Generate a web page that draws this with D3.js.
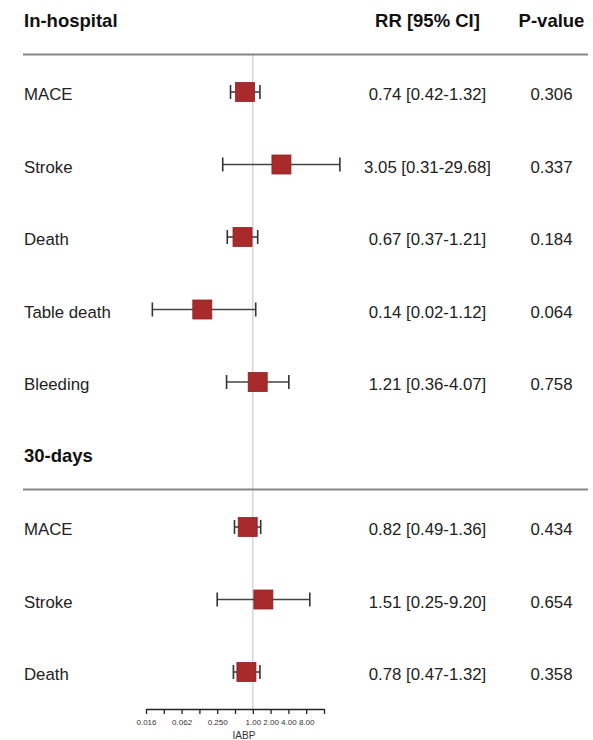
<!DOCTYPE html>
<html>
<head>
<meta charset="utf-8">
<script src="https://cdn.jsdelivr.net/npm/d3@7"></script>
<style>
  html, body { margin: 0; padding: 0; background: #fff; }
  svg { display: block; }
  text { font-family: "Liberation Sans", Arial, sans-serif; }
</style>
</head>
<body>
<svg id="chart" width="593" height="740"></svg>
<script>
// Forest plot of IABP outcomes: relative risk with 95% CI on a log2 axis
const groups = ["In-hospital", "30-days"];
const groupSizes = [5, 3];
const outcomes = ["MACE", "Stroke", "Death", "Table death", "Bleeding", "MACE", "Stroke", "Death"];
const rr    = [0.74, 3.05, 0.67, 0.14, 1.21, 0.82, 1.51, 0.78];
const lower = [0.42, 0.31, 0.37, 0.02, 0.36, 0.49, 0.25, 0.47];
const upper = [1.32, 29.68, 1.21, 1.12, 4.07, 1.36, 9.20, 1.32];
const pValues = ["0.306", "0.337", "0.184", "0.064", "0.758", "0.434", "0.654", "0.358"];
const tickValues = [1/64, 1/32, 1/16, 1/8, 1/4, 1/2, 1, 2, 4, 8, 16];
const tickLabels = ["0.016", "", "0.062", "", "0.250", "", "1.00", "2.00", "4.00", "8.00", ""];
const axisTitle = "IABP";

// Row layout: a header row for each group followed by its outcomes
const rows = [];
let k = 0;
groups.forEach((g, gi) => {
  rows.push({ type: "header", label: g });
  for (let j = 0; j < groupSizes[gi]; j++, k++) {
    rows.push({ type: "item", label: outcomes[k], rr: rr[k], lo: lower[k], hi: upper[k], p: pValues[k] });
  }
});

const svg = d3.select("#chart");
const y = d3.scaleLinear().domain([0, rows.length - 1]).range([19.5, 672]);
const x = d3.scaleLog().base(2).domain([1/64, 16]).range([146, 324]);

const labelX = 24, ciX = 427.5, pX = 551.5, lineX0 = 23, lineX1 = 588;
const axisY = 709;
const box = 19, cap = 14;

// reference line at RR = 1
svg.append("line")
  .attr("x1", x(1)).attr("x2", x(1))
  .attr("y1", y(0) + 35).attr("y2", axisY)
  .attr("stroke", "#d6d6d6").attr("stroke-width", 1.5);

// group headers and their rules
rows.forEach((r, i) => {
  if (r.type !== "header") return;
  const cy = y(i);
  svg.append("text").attr("x", labelX).attr("y", cy + 7)
    .attr("font-size", 18.5).attr("font-weight", "bold").attr("fill", "#111")
    .text(r.label);
  svg.append("line").attr("x1", lineX0).attr("x2", lineX1)
    .attr("y1", cy + 35).attr("y2", cy + 35)
    .attr("stroke", "#858585").attr("stroke-width", 2);
  if (i === 0) {
    svg.append("text").attr("x", ciX).attr("y", cy + 7).attr("text-anchor", "middle")
      .attr("font-size", 18.5).attr("font-weight", "bold").attr("fill", "#111")
      .text("RR [95% CI]");
    svg.append("text").attr("x", pX).attr("y", cy + 7).attr("text-anchor", "middle")
      .attr("font-size", 18.5).attr("font-weight", "bold").attr("fill", "#111")
      .text("P-value");
  }
});

// outcome rows
const items = rows.map((r, i) => Object.assign({ i }, r)).filter(r => r.type === "item");
const g = svg.selectAll("g.row").data(items).join("g").attr("class", "row")
  .attr("transform", d => `translate(0,${y(d.i)})`);

g.append("text").attr("x", labelX).attr("y", 8)
  .attr("font-size", 16.8).attr("fill", "#222").text(d => d.label);
g.append("text").attr("x", ciX).attr("y", 8).attr("text-anchor", "middle")
  .attr("font-size", 16.8).attr("fill", "#222")
  .text(d => `${d.rr.toFixed(2)} [${d.lo.toFixed(2)}-${d.hi.toFixed(2)}]`);
g.append("text").attr("x", pX).attr("y", 8).attr("text-anchor", "middle")
  .attr("font-size", 16.8).attr("fill", "#222").text(d => d.p);

g.append("line").attr("x1", d => x(d.lo)).attr("x2", d => x(d.hi))
  .attr("y1", 0).attr("y2", 0).attr("stroke", "#444").attr("stroke-width", 1.6);
g.append("line").attr("x1", d => x(d.lo)).attr("x2", d => x(d.lo))
  .attr("y1", -cap / 2).attr("y2", cap / 2).attr("stroke", "#333").attr("stroke-width", 1.6);
g.append("line").attr("x1", d => x(d.hi)).attr("x2", d => x(d.hi))
  .attr("y1", -cap / 2).attr("y2", cap / 2).attr("stroke", "#333").attr("stroke-width", 1.6);
g.append("rect").attr("x", d => x(d.rr) - box / 2).attr("y", -box / 2)
  .attr("width", box).attr("height", box)
  .attr("fill", "#a82a2a").attr("stroke", "#8e2222").attr("stroke-width", 0.8);

// log2 axis
const axis = d3.axisBottom(x).tickValues(tickValues)
  .tickFormat((d, i) => tickLabels[i]).tickSize(5).tickSizeOuter(0);
const ax = svg.append("g").attr("transform", `translate(0,${axisY})`).call(axis);
ax.select(".domain").attr("stroke", "#222").attr("stroke-width", 1.3);
ax.selectAll(".tick line").attr("stroke", "#222").attr("stroke-width", 1.3);
ax.selectAll(".tick text").attr("font-size", 8).attr("fill", "#333")
  .attr("font-family", "'Liberation Sans', Arial, sans-serif").attr("dy", "1.05em");

svg.append("text").attr("x", 244).attr("y", 738.5).attr("text-anchor", "middle")
  .attr("font-size", 10).attr("fill", "#333").text(axisTitle);
</script>
</body>
</html>
